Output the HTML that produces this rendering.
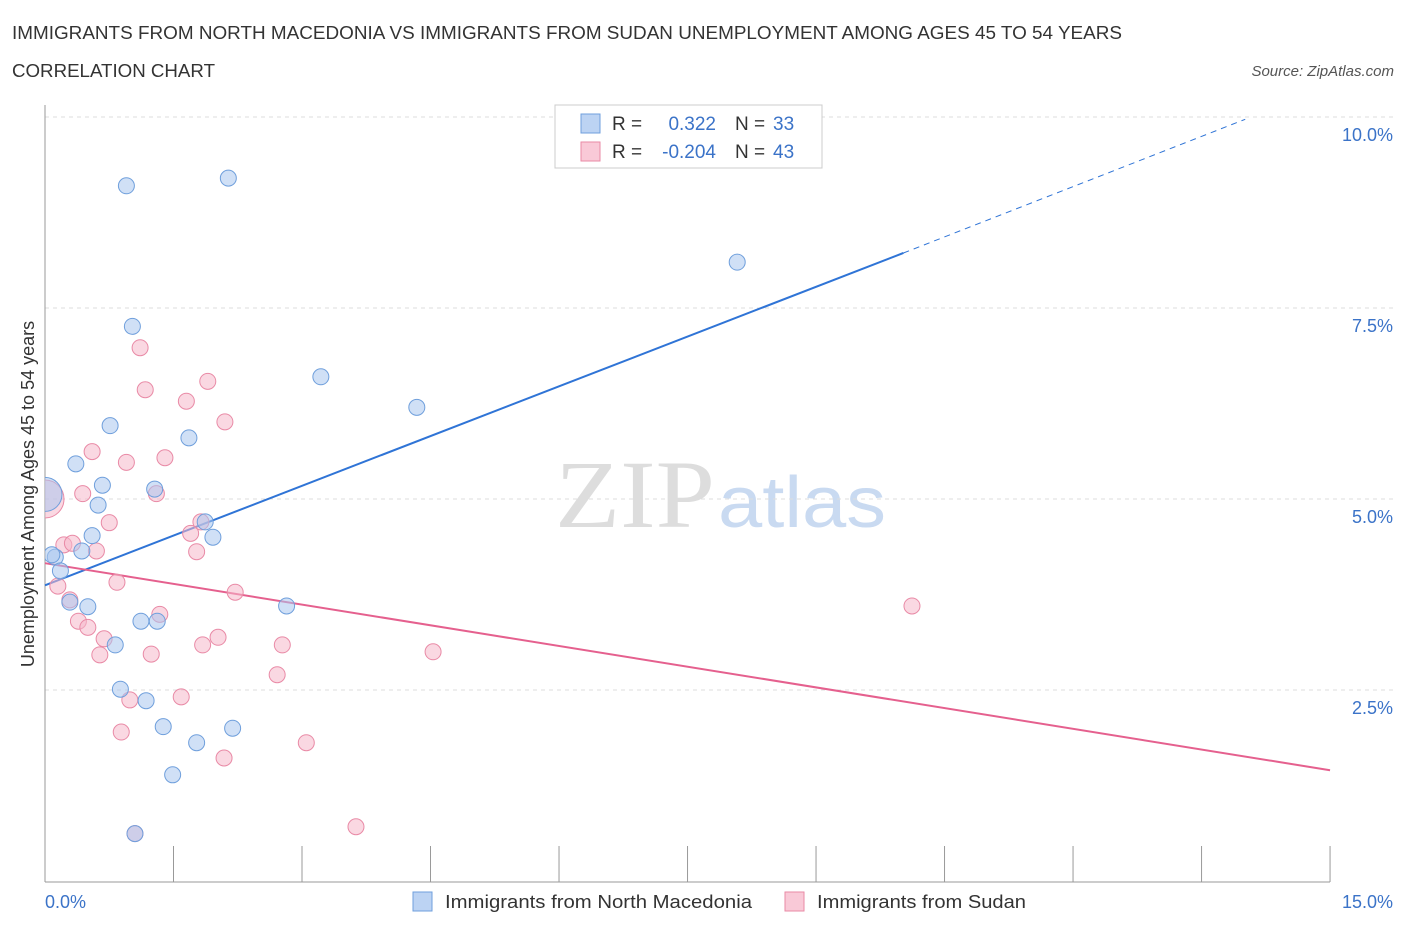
<!DOCTYPE html>
<html><head><meta charset="utf-8"><style>
body{margin:0;background:#fff;font-family:"Liberation Sans",sans-serif;}
svg{display:block}
</style></head><body>
<svg id="chart" width="1406" height="930" xmlns="http://www.w3.org/2000/svg">
<defs><clipPath id="plotclip"><rect x="45" y="100" width="1361" height="782"/></clipPath></defs>
<text x="12" y="39" font-size="18" fill="#333" textLength="1110" lengthAdjust="spacingAndGlyphs">IMMIGRANTS FROM NORTH MACEDONIA VS IMMIGRANTS FROM SUDAN UNEMPLOYMENT AMONG AGES 45 TO 54 YEARS</text>
<text x="12" y="77" font-size="18" fill="#333" textLength="203" lengthAdjust="spacingAndGlyphs">CORRELATION CHART</text>
<text x="1394" y="76" font-size="15" fill="#555" font-style="italic" text-anchor="end">Source: ZipAtlas.com</text>
<text x="555" y="527" font-size="96" fill="#ddd" font-family="Liberation Serif,serif" textLength="160" lengthAdjust="spacingAndGlyphs">ZIP</text>
<text x="718" y="527" font-size="72" fill="#c9daf1" textLength="168" lengthAdjust="spacingAndGlyphs">atlas</text>
<g id="grid"></g><g id="axes"></g><g id="lines"></g><g id="points" clip-path="url(#plotclip)"></g>
<text transform="translate(34,494) rotate(-90)" font-size="18" fill="#333" text-anchor="middle">Unemployment Among Ages 45 to 54 years</text>
<text x="45" y="908" font-size="18" fill="#3b73c8">0.0%</text>
<text x="1393" y="908" font-size="18" fill="#3b73c8" text-anchor="end">15.0%</text>
<g>
<rect x="555" y="105" width="267" height="63" fill="#fff" stroke="#ccc"/>
<rect x="581" y="114" width="19" height="19" fill="#bcd3f3" stroke="#6f9fdc"/>
<rect x="581" y="142" width="19" height="19" fill="#f9c9d7" stroke="#e98aa6"/>
<text x="612" y="130" font-size="19" fill="#333">R = </text><text x="716" y="130" font-size="19" fill="#3b73c8" text-anchor="end">0.322</text>
<text x="735" y="130" font-size="19" fill="#333">N = </text><text x="773" y="130" font-size="19" fill="#3b73c8">33</text>
<text x="612" y="158" font-size="19" fill="#333">R = </text><text x="716" y="158" font-size="19" fill="#3b73c8" text-anchor="end">-0.204</text>
<text x="735" y="158" font-size="19" fill="#333">N = </text><text x="773" y="158" font-size="19" fill="#3b73c8">43</text>
</g>
<g>
<rect x="413" y="892" width="19" height="19" fill="#bcd3f3" stroke="#6f9fdc"/>
<text x="445" y="908" font-size="18" fill="#333" textLength="307" lengthAdjust="spacingAndGlyphs">Immigrants from North Macedonia</text>
<rect x="785" y="892" width="19" height="19" fill="#f9c9d7" stroke="#e98aa6"/>
<text x="817" y="908" font-size="18" fill="#333" textLength="209" lengthAdjust="spacingAndGlyphs">Immigrants from Sudan</text>
</g>
</svg>
<script>
const yTicks=[2.5,5.0,7.5,10.0];
const yTickLabels=["2.5%","5.0%","7.5%","10.0%"];
const xTicks=[0,1.5,3,4.5,6,7.5,9,10.5,12,13.5,15];
const blueX=[0.95,2.14,8.08,1.02,3.22,4.34,0.76,1.68,0.36,0.67,1.28,0.62,1.87,0.55,1.96,0.43,0.12,0.18,0.29,0.50,2.82,1.12,1.31,0.82,0.88,1.18,1.38,2.19,1.77,1.49,1.05,0.08];
const blueY=[9.10,9.20,8.10,7.26,6.60,6.20,5.96,5.80,5.46,5.18,5.13,4.92,4.70,4.52,4.50,4.32,4.24,4.06,3.65,3.59,3.60,3.40,3.40,3.09,2.51,2.36,2.02,2.00,1.81,1.39,0.62,4.27];
const pinkX=[1.11,1.17,1.90,1.65,2.10,0.55,0.95,1.40,0.44,1.30,0.75,1.82,1.70,0.22,0.32,0.60,1.77,0.15,0.84,2.22,1.34,0.39,0.50,0.69,2.02,1.84,2.77,0.64,1.24,4.53,10.12,2.71,1.59,0.99,0.89,2.09,3.05,3.63,1.05,0.29];
const pinkY=[6.98,6.43,6.54,6.28,6.01,5.62,5.48,5.54,5.07,5.07,4.69,4.70,4.55,4.40,4.42,4.32,4.31,3.86,3.91,3.78,3.49,3.40,3.32,3.17,3.19,3.09,3.09,2.96,2.97,3.00,3.60,2.70,2.41,2.37,1.95,1.61,1.81,0.71,0.62,3.68];
const bigBlueX=[0],bigBlueY=[5.06];
const bigPinkX=[0],bigPinkY=[5.0];
const blueLine=[[0,3.87],[10.02,8.22],[14.01,9.97]];
const pinkLine=[[0,4.16],[15,1.45]];
const NS="http://www.w3.org/2000/svg";
const sx=v=>45+v*85.67, sy=v=>881-v*76.4;
function mk(t,a,p){const e=document.createElementNS(NS,t);for(const k in a)e.setAttribute(k,a[k]);p.appendChild(e);return e;}
const grid=document.getElementById('grid'),axes=document.getElementById('axes'),lines=document.getElementById('lines'),pts=document.getElementById('points');
yTicks.forEach((t,i)=>{const g=mk('line',{x1:45,x2:1393,y1:sy(t),y2:sy(t),stroke:'#ddd','stroke-dasharray':'4,4'},grid);


const l=mk('text',{x:1393,y:sy(t)+24,'font-size':18,fill:'#3b73c8','text-anchor':'end'},grid);l.textContent=yTickLabels[i];

});
const xa=mk('line',{x1:45,x2:1330,y1:882,y2:882,stroke:'#999'},axes);


const ya=mk('line',{x1:45,x2:45,y1:105,y2:882,stroke:'#999'},axes);


xTicks.forEach(t=>{const k=mk('line',{x1:sx(t),x2:sx(t),y1:846,y2:882,stroke:'#999'},axes);

});
function dots(X,Y,fill,stroke,name,r){X.forEach((x,i)=>{const c=mk('circle',{cx:sx(x),cy:sy(Y[i]),r:r,fill:fill,'fill-opacity':0.55,stroke:stroke,'stroke-width':1},pts);

});}
dots(bigPinkX,bigPinkY,'#f6b8ca','#e98aa6','point-large-sudan',19);
dots(bigBlueX,bigBlueY,'#a9c7ef','#6f9fdc','point-large-macedonia',17);
dots(pinkX,pinkY,'#f6b8ca','#e98aa6','point-sudan',8);
dots(blueX,blueY,'#a9c7ef','#6f9fdc','point-macedonia',8);
const b1=mk('line',{x1:sx(blueLine[0][0]),y1:sy(blueLine[0][1]),x2:sx(blueLine[1][0]),y2:sy(blueLine[1][1]),stroke:'#2f74d6','stroke-width':2},lines);


const b2=mk('line',{x1:sx(blueLine[1][0]),y1:sy(blueLine[1][1]),x2:sx(blueLine[2][0]),y2:sy(blueLine[2][1]),stroke:'#2f74d6','stroke-width':1,'stroke-dasharray':'6,5'},lines);


const p1=mk('line',{x1:sx(pinkLine[0][0]),y1:sy(pinkLine[0][1]),x2:sx(pinkLine[1][0]),y2:sy(pinkLine[1][1]),stroke:'#e5608e','stroke-width':2},lines);


</script>
</body></html>
